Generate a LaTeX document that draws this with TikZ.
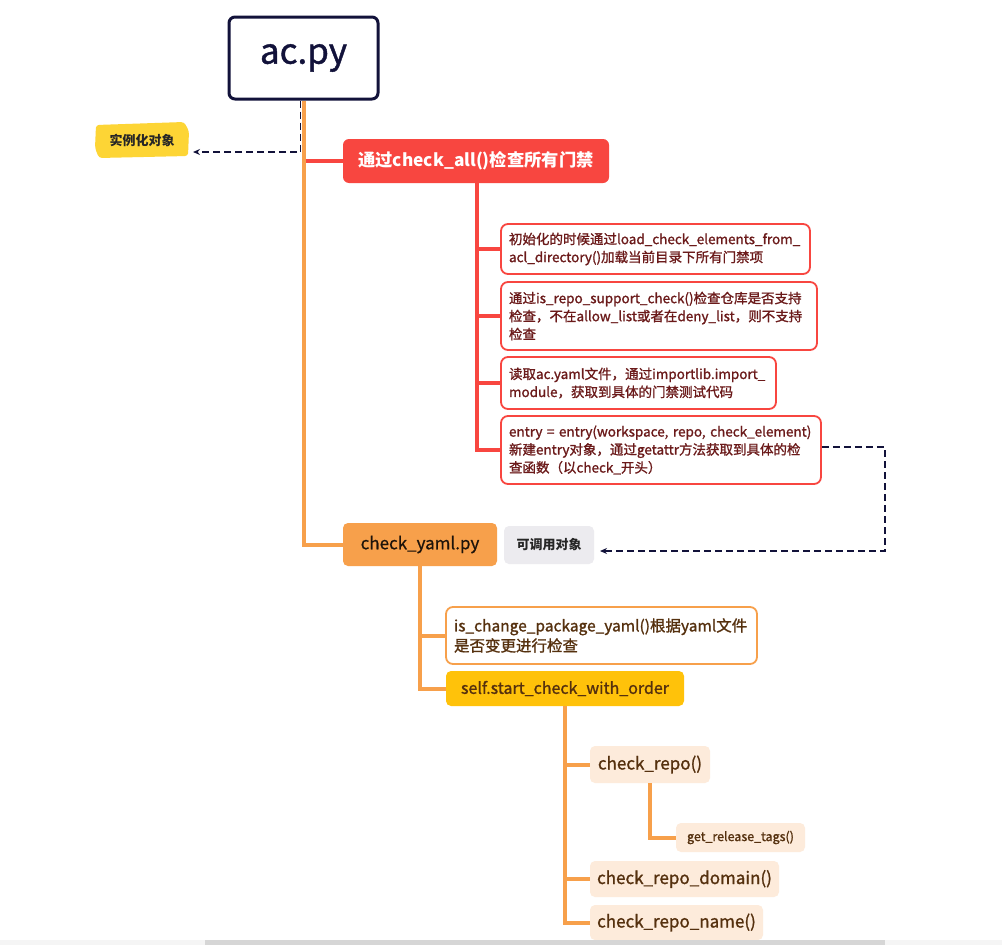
\documentclass[tikz,border=0pt]{standalone}
\usepackage{fontspec}
\setmainfont{Noto Sans CJK SC}
\newfontfamily\semib[FakeBold=1.2]{Noto Sans CJK SC}
\newfontfamily\medb[FakeBold=0.6]{Noto Sans CJK SC}
\usetikzlibrary{arrows.meta}
\definecolor{navy}{HTML}{12123A}
\definecolor{redm}{HTML}{F84640}
\definecolor{orng}{HTML}{F7A04B}
\definecolor{maroon}{HTML}{6B1A1A}
\definecolor{brownt}{HTML}{55300E}
\definecolor{peach}{HTML}{FDEBDB}
\definecolor{gold}{HTML}{FFC20A}
\definecolor{yel}{HTML}{FDD535}
\definecolor{lgray}{HTML}{ECEBEF}
\definecolor{sbar}{HTML}{F5F5F5}
\definecolor{sthumb}{HTML}{D6D6D6}
\tikzset{
  oline/.style={draw=orng,line width=4pt,line join=miter},
  rline/.style={draw=redm,line width=4pt,line join=miter},
  dline/.style={draw=navy,line width=1.8pt,dash pattern=on 7pt off 4pt,-{Stealth[length=7pt,width=6pt]}},
  rbox/.style={draw=redm,line width=1.8pt,fill=white,rounded corners=7pt,inner xsep=8pt,align=left,text=maroon,font=\semib\fontsize{13.5}{18}\selectfont},
  pbox/.style={fill=peach,rounded corners=5pt,text=brownt,inner sep=0pt},
}
\begin{document}
\begin{tikzpicture}[x=1pt,y=-1pt]
\useasboundingbox (0,0) rectangle (1002,945);
\fill[white] (0,0) rectangle (1002,945);
% nodes
\node[draw=navy,line width=3pt,rounded corners=6pt,minimum width=149,minimum height=82,font=\semib\fontsize{35}{40}\selectfont,text=navy] (ac) at (303.5,58) {ac.py};
\fill[yel,rounded corners=3pt] (96,125) -- (184,122) -- (189,131) -- (188,156) -- (99,158) -- (95,148) -- cycle;
\node[font=\bfseries\fontsize{13}{15}\selectfont,text=black!85] (inst) at (142,140) {实例化对象};
\node[fill=redm,rounded corners=6pt,minimum width=266,minimum height=44,text=white,font=\bfseries\fontsize{17.3}{20}\selectfont] (chk) at (476,161) {通过check\_all()检查所有门禁};
\node[rbox,minimum width=309,minimum height=50,text width=293] (b1) at (655.5,249) {初始化的时候通过load\_check\_elements\_from\_\\acl\_directory()加载当前目录下所有门禁项};
\node[rbox,minimum width=316,minimum height=68,text width=300] (b2) at (659,316) {通过is\_repo\_support\_check()检查仓库是否支持\\检查，不在allow\_list或者在deny\_list，则不支持\\检查};
\node[rbox,minimum width=275,minimum height=52,text width=259] (b3) at (638.5,383) {读取ac.yaml文件，通过importlib.import\_\\module，获取到具体的门禁测试代码};
\node[rbox,minimum width=320,minimum height=68,text width=304] (b4) at (661,450) {entry = entry(workspace, repo, check\_element)\\新建entry对象，通过getattr方法获取到具体的检\\查函数（以check\_开头）};
\node[fill=orng,rounded corners=5pt,minimum width=154,minimum height=43,text=black!85!brown,font=\medb\fontsize{17}{20}\selectfont] (cy) at (420,544.5) {check\_yaml.py};
\node[fill=lgray,rounded corners=5pt,minimum width=90,minimum height=38,font=\bfseries\fontsize{13}{15}\selectfont,text=black!85] (call) at (549,545) {可调用对象};
\node[draw=orng,line width=1.8pt,fill=white,rounded corners=7pt,minimum width=311,minimum height=57,text width=295,inner xsep=8pt,align=left,text=brownt,font=\semib\fontsize{15.5}{20}\selectfont] (ic) at (601.5,635.5) {is\_change\_package\_yaml()根据yaml文件\\是否变更进行检查};
\node[fill=gold,rounded corners=5pt,minimum width=238,minimum height=35,text=brownt,font=\semib\fontsize{16}{18}\selectfont] (ss) at (565,688.5) {self.start\_check\_with\_order};
\node[pbox,minimum width=120,minimum height=37,font=\semib\fontsize{17}{19}\selectfont] (cr) at (650,764.5) {check\_repo()};
\node[pbox,minimum width=129,minimum height=29,font=\semib\fontsize{12.5}{14}\selectfont] (grt) at (740.5,837.5) {get\_release\_tags()};
\node[pbox,minimum width=189,minimum height=36,font=\semib\fontsize{17}{19}\selectfont] (crd) at (684.5,879) {check\_repo\_domain()};
\node[pbox,minimum width=173,minimum height=35,font=\semib\fontsize{17}{19}\selectfont] (crn) at (676.5,922.5) {check\_repo\_name()};
% connectors
\draw[oline] ([xshift=0.5pt]ac.south) |- (cy.west);
\draw[rline] ([xshift=2pt]ac.south |- chk.west) -- (chk.west);
\draw[rline] ([xshift=1pt]chk.south) |- (b4.west);
\foreach \b in {b1,b2,b3} \draw[rline] ([xshift=1pt]chk.south |- \b.west) -- (\b.west);
\draw[oline] (cy.south) |- (ss.west);
\draw[oline] (cy.south |- ic.west) -- (ic.west);
\draw[oline] (ss.south) |- (crn.west);
\foreach \b in {cr,crd} \draw[oline] (ss.south |- \b.west) -- (\b.west);
\draw[oline] (cr.south) |- (grt.west);
% dashed
\coordinate (ia) at (193,152);
\coordinate (ka) at (600,551);
\draw[dline] ([xshift=-3pt]ac.south) |- (ia);
\draw[dline] ([yshift=3pt]b4.east) -- ++(63,0) |- (ka);
% scrollbar
\fill[sbar] (0,940) rectangle (1002,945);
\fill[sthumb] (205,940) rectangle (885,945);
\end{tikzpicture}
\end{document}
